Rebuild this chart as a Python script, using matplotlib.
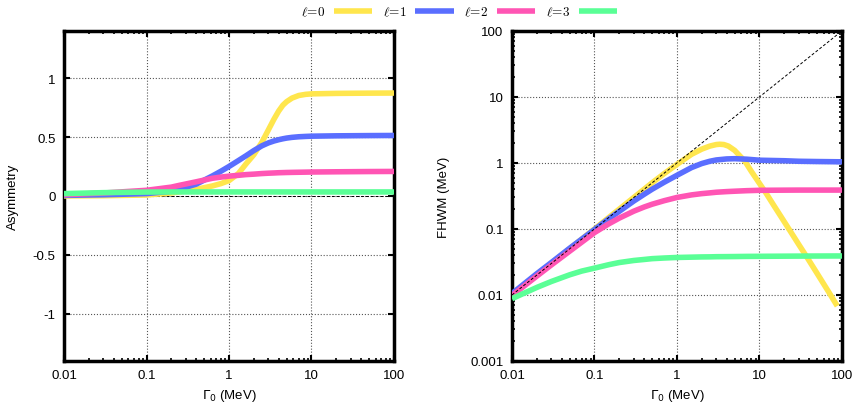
import numpy as np
import matplotlib
matplotlib.use("Agg")
import matplotlib.pyplot as plt
from matplotlib.ticker import LogLocator, NullFormatter

# Легенда / кольори
labels = [r"$\ell\!=\!0$", r"$\ell\!=\!1$", r"$\ell\!=\!2$", r"$\ell\!=\!3$"]
colors = ["#ffe64d", "#5a6eff", "#ff55b4", "#5aff96"]

# Asymmetry (лівий графік)
asym_g0 = [0.01, 0.03, 0.1, 0.2, 0.25, 0.4, 0.63, 0.8, 1.0, 1.3, 1.6, 2.0, 2.5, 3.0, 3.5, 4.0, 4.5, 5.0, 5.8, 7.0, 8.5, 10, 20, 50, 100]
asym_l0 = [0.0, 0.002, 0.008, 0.025, 0.035, 0.056, 0.085, 0.105, 0.13, 0.19, 0.27, 0.35, 0.455, 0.56, 0.65, 0.72, 0.77, 0.8, 0.83, 0.852, 0.862, 0.866, 0.87, 0.872, 0.873]
asym_l1 = [0.005, 0.01, 0.02, 0.04, 0.058, 0.1, 0.17, 0.21, 0.25, 0.3, 0.34, 0.385, 0.425, 0.45, 0.466, 0.477, 0.485, 0.491, 0.497, 0.502, 0.505, 0.507, 0.51, 0.512, 0.513]
asym_l2 = [0.01, 0.025, 0.048, 0.075, 0.09, 0.12, 0.15, 0.16, 0.168, 0.175, 0.181, 0.185, 0.19, 0.193, 0.195, 0.197, 0.198, 0.199, 0.2, 0.201, 0.202, 0.203, 0.205, 0.207, 0.208]
asym_l3 = [0.02, 0.028, 0.033, 0.034, 0.034, 0.034, 0.034, 0.034, 0.034, 0.034, 0.034, 0.034, 0.034, 0.034, 0.034, 0.034, 0.034, 0.034, 0.034, 0.034, 0.034, 0.034, 0.034, 0.034, 0.034]

# FWHM (правий графік)
fw_g0 = [0.01, 0.1, 0.3, 0.5, 0.7, 1.0, 1.5, 2.0, 2.5, 3.0, 3.3, 3.7, 4.2, 5.0, 6.0, 6.7, 8.0, 10, 12, 15, 18.6, 25, 30, 37.3, 50, 70, 87.7]
fw_l0 = [0.0102, 0.1, 0.3, 0.5, 0.69, 0.95, 1.35, 1.62, 1.8, 1.9, 1.92, 1.9, 1.8, 1.55, 1.22, 1.05, 0.74, 0.49, 0.35, 0.225, 0.148, 0.083, 0.058, 0.038, 0.0212, 0.0108, 0.0068]
fw_g = [0.01, 0.02, 0.03, 0.05, 0.07, 0.1, 0.15, 0.2, 0.3, 0.4, 0.5, 0.7, 1.0, 1.5, 2.0, 2.5, 3.0, 4.0, 5.0, 7.0, 10, 20, 30, 50, 100]
fw_l1 = [0.0105, 0.021, 0.031, 0.051, 0.07, 0.098, 0.143, 0.185, 0.265, 0.335, 0.4, 0.51, 0.65, 0.85, 0.98, 1.06, 1.11, 1.15, 1.16, 1.14, 1.1, 1.08, 1.06, 1.05, 1.04]
fw_l2 = [0.0098, 0.0193, 0.0285, 0.046, 0.063, 0.088, 0.12, 0.146, 0.186, 0.215, 0.237, 0.268, 0.30, 0.328, 0.343, 0.352, 0.36, 0.368, 0.373, 0.38, 0.385, 0.387, 0.388, 0.388, 0.388]
fw_l3 = [0.0088, 0.013, 0.016, 0.0202, 0.023, 0.0255, 0.0288, 0.031, 0.0333, 0.0345, 0.0355, 0.0363, 0.037, 0.0374, 0.0377, 0.0378, 0.038, 0.0381, 0.0382, 0.0384, 0.0385, 0.0387, 0.0388, 0.0389, 0.039]

plt.rcParams["font.family"] = ["Liberation Sans", "DejaVu Sans"]
plt.rcParams["font.size"] = 9.5

fig = plt.figure(figsize=(8.58, 4.06), dpi=100)
ax1 = fig.add_axes([0.0746, 0.1084, 0.3846, 0.813])
ax2 = fig.add_axes([0.5967, 0.1084, 0.3846, 0.813])

lw = 4
for ys, c, lab in zip([asym_l0, asym_l1, asym_l2, asym_l3], colors, labels):
    ax1.plot(asym_g0, ys, color=c, lw=lw, label=lab, zorder=3, solid_capstyle="butt")
ax1.axhline(0, color="black", ls="--", lw=0.7, dashes=(3, 2), zorder=2)

ax2.plot(fw_g0, fw_l0, color=colors[0], lw=lw, zorder=3, solid_capstyle="butt")
for ys, c in zip([fw_l1, fw_l2, fw_l3], colors[1:]):
    ax2.plot(fw_g, ys, color=c, lw=lw, zorder=3, solid_capstyle="butt")
ax2.plot([0.01, 100], [0.01, 100], color="black", lw=0.7, ls="--", dashes=(3, 2), zorder=4)

for ax in (ax1, ax2):
    ax.set_xscale("log")
    ax.set_xlim(0.01, 100)
    ax.set_xticks([0.01, 0.1, 1, 10, 100])
    ax.set_xticklabels(["0.01", "0.1", "1", "10", "100"])
    ax.xaxis.set_minor_locator(LogLocator(base=10, subs=np.arange(2, 10)))
    ax.xaxis.set_minor_formatter(NullFormatter())
    ax.grid(True, which="major", ls=":", color="#555555", lw=0.8)
    ax.tick_params(which="major", direction="in", top=True, right=True, length=4, width=1.5, pad=6, colors="black")
    ax.tick_params(which="minor", direction="in", top=True, right=True, length=2.5, width=1.2)
    for s in ax.spines.values():
        s.set_linewidth(2.5)
    ax.set_xlabel(r"$\Gamma_0$ (MeV)", labelpad=4)

ax1.set_ylim(-1.4, 1.4)
ax1.set_yticks([-1, -0.5, 0, 0.5, 1])
ax1.set_yticklabels(["-1", "-0.5", "0", "0.5", "1"])
ax1.set_ylabel("Asymmetry", labelpad=10)

ax2.set_yscale("log")
ax2.set_ylim(0.001, 100)
ax2.set_yticks([0.001, 0.01, 0.1, 1, 10, 100])
ax2.set_yticklabels(["0.001", "0.01", "0.1", "1", "10", "100"])
ax2.yaxis.set_minor_locator(LogLocator(base=10, subs=np.arange(2, 10)))
ax2.yaxis.set_minor_formatter(NullFormatter())
ax2.set_ylabel("FHWM (MeV)", labelpad=15)

leg = fig.legend(loc="center", bbox_to_anchor=(0.535, 0.968), ncol=4, frameon=False,
                 markerfirst=False, handlelength=2.9, columnspacing=0.8, handletextpad=0.65,
                 fontsize=9.5)
for t in leg.get_texts():
    t.set_math_fontfamily("cm")

fig.savefig("out.png", dpi=100)
